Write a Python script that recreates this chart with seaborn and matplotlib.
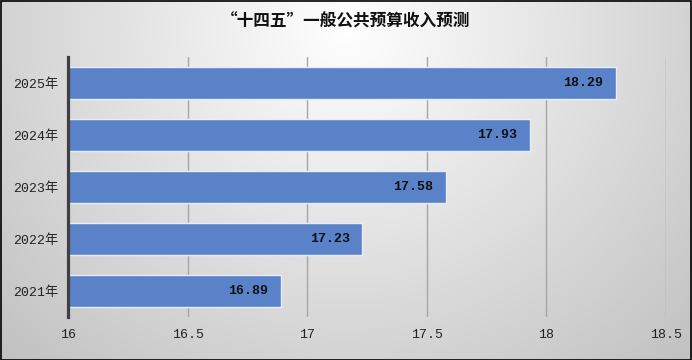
import numpy as np
import pandas as pd
import matplotlib
matplotlib.use("Agg")
import matplotlib.pyplot as plt
import seaborn as sns
from matplotlib.patches import Rectangle

years = ["2025年", "2024年", "2023年", "2022年", "2021年"]
values = [18.29, 17.93, 17.58, 17.23, 16.89]
xticks = [16, 16.5, 17, 17.5, 18, 18.5]
title = "“十四五”一般公共预算收入预测"

sns.set_theme(style="white")
plt.rcParams["font.family"] = ["Liberation Mono", "Noto Sans CJK SC", "DejaVu Sans"]

W, H = 692, 360
fig = plt.figure(figsize=(W / 100, H / 100), dpi=100)

# radial gradient background
bg = fig.add_axes([0, 0, 1, 1], zorder=-10)
yy, xx = np.mgrid[0:H, 0:W]
d = np.sqrt(((xx - 346) / 346.0) ** 2 + ((yy - 30) / 330.0) ** 2)
g = np.clip(255 - 44 * d, 0, 255) / 255.0
bg.imshow(np.dstack([g, g, g]), aspect="auto", extent=[0, 1, 0, 1], origin="upper")
bg.set_axis_off()

ax = fig.add_axes([68 / W, 1 - 317 / H, (666 - 68) / W, 260 / H])
ax.set_facecolor("none")
df = pd.DataFrame({"year": years, "value": values})
sns.barplot(data=df, x="value", y="year", order=years, orient="h", color="#5A82C8",
            saturation=1, width=0.6, edgecolor="#E8EEF8", linewidth=1, ax=ax, zorder=3)

ax.set_xlim(16, 18.5)
ax.set_xticks(xticks)
ax.set_xticklabels([f"{t:g}" for t in xticks], fontsize=9.5, color="#222222")
ax.set_xlabel("")
ax.set_ylabel("")
ax.tick_params(axis="y", labelsize=9.5, pad=7, length=0, colors="#222222")
ax.tick_params(axis="x", pad=9, length=0)
ax.grid(axis="x", color="#A6A6A6", lw=1, zorder=0)
ax.grid(axis="y", visible=False)
for s in ["top", "right", "bottom"]:
    ax.spines[s].set_visible(False)
ax.spines["left"].set_color("#404040")
ax.spines["left"].set_linewidth(2.3)
ax.spines["left"].set_zorder(5)

for cont in ax.containers:
    anns = ax.bar_label(cont, labels=[f"{v:.2f}" for v in values], padding=-9,
                        fontsize=9.5, fontweight="bold", color="#111111")
    for a in anns:
        a.set_ha("right")

fig.text(0.5, 1 - 22 / H, title, ha="center", va="center", fontsize=12,
         fontweight="bold", family=["Noto Sans CJK SC"], color="#111111")

fig.patches.append(Rectangle((0.5 / W, 0.5 / H), 1 - 1.5 / W, 1 - 1.5 / H,
                             transform=fig.transFigure, fill=False, edgecolor="black",
                             lw=1.2, zorder=20))

fig.savefig("out.png", dpi=100)
